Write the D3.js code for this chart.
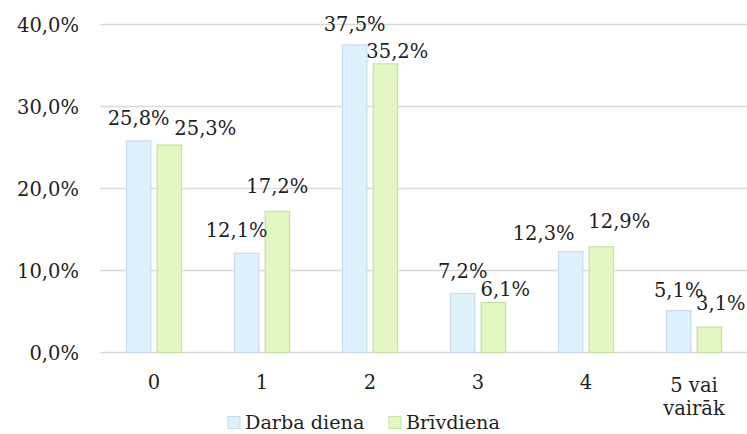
<!DOCTYPE html>
<html>
<head>
<meta charset="utf-8">
<script src="https://cdn.jsdelivr.net/npm/d3@7"></script>
<style>
  html, body { margin: 0; padding: 0; background: #fff; }
  svg { display: block; }
  text { font-family: "DejaVu Serif", "Liberation Serif", serif; fill: #1f1f1f; }
</style>
</head>
<body>
<svg id="chart" width="747" height="434"></svg>
<script>
// Number of categories per day type, share of respondents (%)
const categories = ["0", "1", "2", "3", "4", "5 vai vairāk"];
const seriesNames = ["Darba diena", "Brīvdiena"];
const workday = [25.8, 12.1, 37.5, 7.2, 12.3, 5.1];
const holiday = [25.3, 17.2, 35.2, 6.1, 12.9, 3.1];
const yTicks = [0, 10, 20, 30, 40];

// Hand-placed label nudges [dx, dy] so neighbouring labels do not collide
const workdayNudge = [[0, -16], [-10, -16], [0, -14.5], [0, -15], [-27, -11.5], [0, -14]];
const holidayNudge = [[36, -10], [0, -18], [12, -6], [12, -6], [18, -18.5], [11.5, -17]];

const fills = ["#DDF2FC", "#E2F7C1"];
const strokes = ["#C9DAF0", "#C5E2A3"];
const FS = 19.5;

const svg = d3.select("#chart");
const fmt = v => d3.format(".1f")(v).replace(".", ",") + "%";

const x0 = d3.scaleBand().domain(categories).range([100, 748]);
const bw = x0.bandwidth();
const x1 = d3.scaleBand().domain(seriesNames)
  .range([bw * 0.245, bw * 0.755]).paddingInner(0.206);
const y = d3.scaleLinear().domain([0, 40]).range([352.5, 24.5]);

// Gridlines + value axis labels
const yAxis = d3.axisLeft(y).tickValues(yTicks).tickSize(0).tickPadding(0).tickFormat(fmt);
const gy = svg.append("g").attr("transform", "translate(79,0)").call(yAxis);
gy.select(".domain").remove();
gy.selectAll("text").attr("font-size", FS).attr("dy", "0.36em").attr("font-family", null);

svg.append("g").selectAll("line").data(yTicks).join("line")
  .attr("x1", 100).attr("x2", 747)
  .attr("y1", d => y(d)).attr("y2", d => y(d))
  .attr("stroke", "#D9D9D9").attr("stroke-width", 1.4);

// Bars
const rows = categories.map((c, i) => ({
  cat: c,
  vals: [
    { s: 0, name: seriesNames[0], v: workday[i], nudge: workdayNudge[i] },
    { s: 1, name: seriesNames[1], v: holiday[i], nudge: holidayNudge[i] }
  ]
}));

const groups = svg.append("g").selectAll("g").data(rows).join("g")
  .attr("transform", d => `translate(${x0(d.cat)},0)`);

groups.selectAll("rect").data(d => d.vals).join("rect")
  .attr("x", d => x1(d.name))
  .attr("width", x1.bandwidth())
  .attr("y", d => y(d.v))
  .attr("height", d => y(0) - y(d.v))
  .attr("fill", d => fills[d.s])
  .attr("stroke", d => strokes[d.s])
  .attr("stroke-width", 1.2);

groups.selectAll("text.val").data(d => d.vals).join("text")
  .attr("class", "val")
  .attr("x", d => x1(d.name) + x1.bandwidth() / 2 + d.nudge[0])
  .attr("y", d => y(d.v) + d.nudge[1])
  .attr("text-anchor", "middle")
  .attr("font-size", FS)
  .text(d => fmt(d.v));

// Category axis labels, wrapped by width
const xAxis = d3.axisBottom(x0).tickSize(0).tickPadding(0);
const gx = svg.append("g").attr("transform", "translate(0,352.5)").call(xAxis);
gx.select(".domain").remove();
gx.selectAll("text").attr("font-size", FS).attr("font-family", null)
  .attr("y", 0).attr("dy", null)
  .each(function(d) {
    const t = d3.select(this);
    const words = d.split(" ");
    const lines = [];
    let cur = [];
    const probe = svg.append("text").attr("font-size", FS);
    words.forEach(w => {
      const test = cur.concat([w]).join(" ");
      probe.text(test);
      if (cur.length && probe.node().getComputedTextLength() > 85) {
        lines.push(cur.join(" "));
        cur = [w];
      } else cur.push(w);
    });
    lines.push(cur.join(" "));
    probe.remove();
    t.text(null);
    const firstY = lines.length > 1 ? 39.5 : 36;
    lines.forEach((ln, k) => {
      t.append("tspan").attr("x", 0).attr("y", firstY + k * 23).text(ln);
    });
  });

// Legend
const legendX = [228, 389];
const lg = svg.append("g").selectAll("g").data(seriesNames).join("g")
  .attr("transform", (d, i) => `translate(${legendX[i]},416.5)`);
lg.append("rect").attr("width", 12).attr("height", 12)
  .attr("fill", (d, i) => fills[i]).attr("stroke", (d, i) => strokes[i]).attr("stroke-width", 1);
lg.append("text").attr("x", 17).attr("y", 12.5).attr("font-size", 19.2).text(d => d);
</script>
</body>
</html>
